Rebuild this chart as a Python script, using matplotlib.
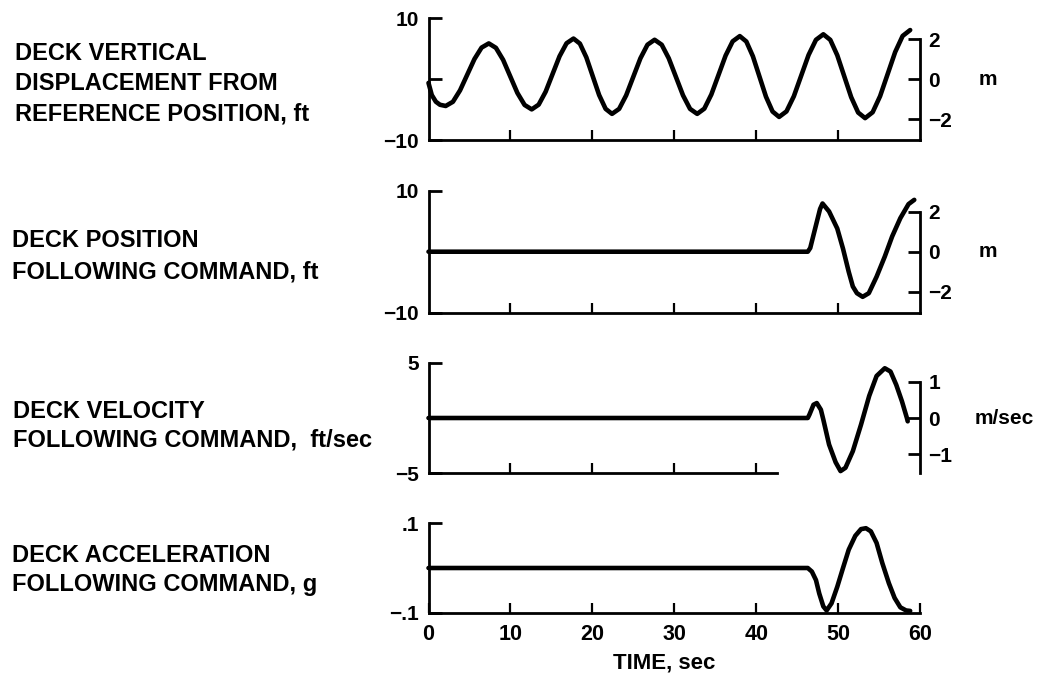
import matplotlib
matplotlib.use('Agg')
import matplotlib.pyplot as plt

plt.rcParams['font.family'] = ['Liberation Sans', 'DejaVu Sans']
plt.rcParams['font.weight'] = 'bold'

FT_PER_M = 3.28084

# ---------------- data ----------------
time_ticks = [0, 10, 20, 30, 40, 50, 60]
time_labels = ['0', '10', '20', '30', '40', '50', '60']

# Deck vertical displacement from reference position, ft
disp_t = [0, 0.4, 0.9, 1.4, 2.1, 2.98, 3.85, 4.73, 5.61, 6.48, 7.36, 8.23, 9.11, 9.98,
          10.85, 11.73, 12.6, 13.45, 14.3, 15.15, 16.0, 16.85, 17.7, 18.48, 19.27, 20.05,
          20.83, 21.62, 22.4, 23.27, 24.13, 25.0, 25.87, 26.73, 27.6, 28.47, 29.33, 30.2,
          31.07, 31.93, 32.8, 33.67, 34.53, 35.4, 36.27, 37.13, 38.0, 38.8, 39.6, 40.4,
          41.2, 42.0, 42.8, 43.7, 44.6, 45.5, 46.4, 47.3, 48.2, 49.05, 49.9, 50.75, 51.6,
          52.45, 53.3, 54.22, 55.13, 56.05, 56.97, 57.88, 58.8]
disp_ft = [-0.6, -2.6, -3.7, -4.2, -4.4, -3.71, -1.83, 0.75, 3.33, 5.21, 5.9, 5.17, 3.19,
           0.47, -2.25, -4.23, -4.96, -4.18, -2.05, 0.87, 3.79, 5.92, 6.7, 5.87, 3.6, 0.5,
           -2.6, -4.87, -5.7, -4.88, -2.65, 0.4, 3.45, 5.68, 6.5, 5.68, 3.45, 0.4, -2.65,
           -4.88, -5.7, -4.84, -2.5, 0.7, 3.9, 6.24, 7.1, 6.21, 3.78, 0.45, -2.88, -5.31,
           -6.2, -5.29, -2.8, 0.6, 4.0, 6.49, 7.4, 6.48, 3.95, 0.5, -2.95, -5.48, -6.4,
           -5.43, -2.78, 0.85, 4.48, 7.13, 8.1]

# Deck position following command, ft
pos_t = [0, 46.3, 46.6, 47.2, 47.8, 48.1, 48.9, 49.9, 50.6, 51.3, 51.8, 52.3, 53.0, 53.75,
         54.7, 55.7, 56.6, 57.6, 58.6, 59.3]
pos_ft = [0, 0, 0.6, 3.8, 7.0, 7.9, 6.6, 3.8, 0.5, -3.3, -5.7, -6.8, -7.4, -6.8, -4.1,
          -0.8, 2.5, 5.5, 7.8, 8.5]

# Deck velocity following command, ft/sec
vel_t = [0, 46.3, 46.5, 47.0, 47.4, 47.9, 48.2, 48.9, 49.7, 50.3, 50.9, 51.8, 52.8, 53.8,
         54.7, 55.7, 56.4, 57.1, 57.8, 58.4, 58.5]
vel_fps = [0, 0, 0.3, 1.2, 1.35, 0.75, -0.15, -2.4, -4.0, -4.8, -4.5, -3.0, -0.6, 2.0,
           3.8, 4.5, 4.2, 3.0, 1.5, 0.0, -0.3]

# Deck acceleration following command, g
acc_t = [0, 46.3, 46.8, 47.3, 47.7, 48.2, 48.6, 49.2, 49.9, 50.6, 51.3, 52.1, 52.8, 53.4,
         54.0, 54.7, 55.4, 56.2, 56.9, 57.6, 58.3, 58.8]
acc_g = [0, 0, -0.008, -0.027, -0.057, -0.086, -0.095, -0.079, -0.042, 0.0, 0.041, 0.072,
         0.087, 0.089, 0.082, 0.056, 0.011, -0.034, -0.067, -0.088, -0.095, -0.096]

labels = [
    ['DECK VERTICAL', 'DISPLACEMENT FROM', 'REFERENCE POSITION, ft'],
    ['DECK POSITION', 'FOLLOWING COMMAND, ft'],
    ['DECK VELOCITY', 'FOLLOWING COMMAND,  ft/sec'],
    ['DECK ACCELERATION', 'FOLLOWING COMMAND, g'],
]

# ---------------- layout ----------------
W, H = 1048, 680
fig = plt.figure(figsize=(W / 100, H / 100), dpi=100)

X0, X1 = 428.5, 920.0


def make_axes(top, bottom):
    return fig.add_axes([X0 / W, 1 - bottom / H, (X1 - X0) / W, (bottom - top) / H])


LW_SP = 2.0
TFS = 15


def style(ax, ylim, yticks, ylabels, xticks, xend):
    ax.set_xlim(0, 60)
    ax.set_ylim(*ylim)
    ax.spines['top'].set_visible(False)
    ax.spines['right'].set_visible(False)
    ax.spines['left'].set_linewidth(LW_SP)
    ax.spines['bottom'].set_linewidth(LW_SP)
    ax.spines['bottom'].set_bounds(0, xend)
    ax.set_yticks(yticks)
    ax.set_yticklabels(ylabels)
    ax.set_xticks(xticks)
    ax.set_xticklabels([])
    ax.tick_params(axis='y', direction='in', length=9, width=LW_SP, pad=7,
                   labelsize=TFS)
    ax.tick_params(axis='x', direction='in', length=7, width=1.6)
    ax.patch.set_visible(False)


def right_axis(ax, ticks, tlabels, top, bottom, unit, unit_off):
    sec = ax.secondary_yaxis('right', functions=(lambda v: v / FT_PER_M,
                                                 lambda v: v * FT_PER_M))
    sec.set_yticks(ticks)
    sec.set_yticklabels(tlabels)
    sec.spines['right'].set_linewidth(LW_SP)
    sec.spines['right'].set_bounds(bottom, top)
    sec.tick_params(direction='in', length=9, width=LW_SP, pad=6, labelsize=TFS)
    ax.annotate(unit, xy=(1, 0), xycoords=('axes fraction', 'data'),
                xytext=(unit_off, 0), textcoords='offset points',
                ha='left', va='center', fontsize=TFS, fontweight='bold')
    return sec


LINE = dict(color='black', lw=3.3, solid_capstyle='round', solid_joinstyle='round',
            clip_on=False)

# Panel 1
ax1 = make_axes(18.5, 140.0)
style(ax1, (-10, 10), [-10, 0, 10], ['\u221210', '', '10'], [10, 20, 30, 40, 50], 60)
ax1.plot(disp_t, disp_ft, **LINE)
right_axis(ax1, [-2, 0, 2], ['\u22122', '0', '2'], 2, -10 / FT_PER_M, 'm', 42)

# Panel 2
ax2 = make_axes(190.7, 312.7)
style(ax2, (-10, 10), [-10, 0, 10], ['\u221210', '', '10'], [10, 20, 30, 40, 50], 60)
ax2.plot(pos_t, pos_ft, **LINE)
right_axis(ax2, [-2, 0, 2], ['\u22122', '0', '2'], 2, -10 / FT_PER_M, 'm', 42)

# Panel 3
ax3 = make_axes(362.7, 473.3)
style(ax3, (-5, 5), [-5, 0, 5], ['\u22125', '', '5'], [10, 20, 30, 40], 42.6)
ax3.plot(vel_t, vel_fps, **LINE)
right_axis(ax3, [-1, 0, 1], ['\u22121', '0', '1'], 1, -5 / FT_PER_M, 'm/sec', 39)

# Panel 4
ax4 = make_axes(523.3, 612.7)
style(ax4, (-0.1, 0.1), [-0.1, 0, 0.1], ['\u2212.1', '', '.1'], time_ticks, 60)
ax4.set_xticklabels(time_labels)
ax4.tick_params(axis='x', labelsize=15.5, pad=8)
ax4.plot(acc_t, acc_g, **LINE)
ax4.text(0.48, -0.56, 'TIME, sec', transform=ax4.transAxes, ha='center', va='center',
         fontsize=16, fontweight='bold')

# Left-hand descriptive labels
label_pos = [
    (15, [54, 84, 114]),
    (12, [240, 272]),
    (13, [411, 440]),
    (12, [556, 585]),
]
for lines, (xp, ys) in zip(labels, label_pos):
    for s, yp in zip(lines, ys):
        fig.text(xp / W, 1 - yp / H, s, ha='left', va='center', fontsize=17,
                 fontweight='bold')

fig.savefig('out.png', dpi=100)
